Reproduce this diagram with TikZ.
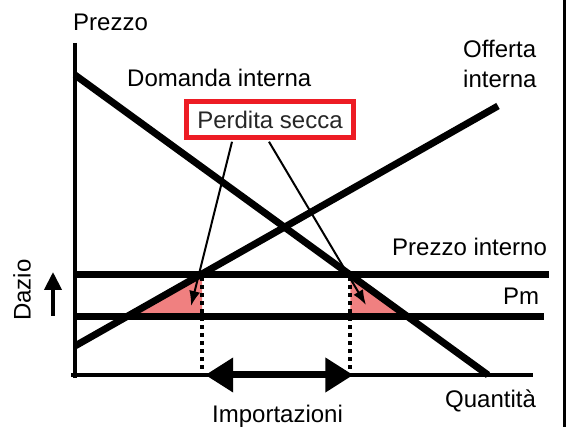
\documentclass[tikz,border=0pt]{standalone}
\usepackage{fontspec}
\setmainfont{Liberation Sans}
\usetikzlibrary{positioning,calc,arrows.meta}
\definecolor{lossred}{HTML}{F08080}
\definecolor{boxred}{HTML}{ED1C24}
\tikzset{axes/.style={line width=4.5pt}}
\tikzset{curve/.style={line width=7pt}}
\tikzset{level/.style={line width=7pt}}
\tikzset{drop/.style={line width=4pt,dash pattern=on 4pt off 4pt}}
\tikzset{loss/.style={fill=lossred}}
\tikzset{pointer/.style={-{Latex[length=15pt,width=11pt]},line width=2pt}}
\tikzset{uparrow/.style={-{Triangle[length=18pt,width=17pt]},line width=4pt}}
\tikzset{bigarrow/.style={{Triangle[length=28pt,width=33pt]}-{Triangle[length=28pt,width=33pt]},line width=7pt}}
\tikzset{lbl/.style={inner sep=0pt,font=\fontsize{24}{30}\selectfont}}

\begin{document}
\begin{tikzpicture}[x=1pt,y=-1pt]
  \useasboundingbox (0,0) rectangle (566,427);
  \coordinate (o) at (75,375);
  \coordinate (ytop) at (75,43);
  \coordinate (xend) at (533,375);
  \coordinate (d1) at (75,75);
  \coordinate (d2) at (488,375);
  \coordinate (s1) at (75,346);
  \coordinate (s2) at (498,106);
  \coordinate (pi1) at (75,275);
  \coordinate (pi2) at (549,275);
  \coordinate (pm1) at (75,317);
  \coordinate (pm2) at (544,317);
  \coordinate (sa) at (intersection of s1--s2 and pi1--pi2);
  \coordinate (sb) at (intersection of s1--s2 and pm1--pm2);
  \coordinate (da) at (intersection of d1--d2 and pi1--pi2);
  \coordinate (db) at (intersection of d1--d2 and pm1--pm2);
  \fill[loss] (sb) -- ($(sa)+(2,0)$) -- ($(sa |- sb)+(2,0)$) -- cycle;
  \fill[loss] (da) -- (db) -- (da |- db) -- cycle;
  \draw[axes] (ytop) -- (75,378);
  \draw[axes] (71,375) -- (xend);
  \draw[level] (pi1) -- (pi2);
  \draw[level] (pm1) -- (pm2);
  \draw[curve] (d1) -- (d2);
  \draw[curve] (s1) -- (s2);
  \draw[drop] ($(sa)+(2,2)$) -- ($(sa |- o)+(2,0)$);
  \draw[drop] ($(da)+(0,2)$) -- (da |- o);
  \draw[bigarrow] ($(sa |- o)+(5,0)$) -- ($(da |- o)+(3,0)$);
  \node[lbl,anchor=base west] (prezzo) at (73,31) {Prezzo};
  \node[lbl,anchor=base west] (domanda) at (127,87) {Domanda interna};
  \node[lbl,anchor=base west,align=left] (offerta) at (463,88) {Offerta\\interna};
  \node[lbl,anchor=base west] (interno) at (392,256) {Prezzo interno};
  \node[lbl,anchor=base west] (pm) at (503,305) {Pm};
  \node[lbl,anchor=base west] (quantita) at (445,408) {Quantità};
  \node[lbl,anchor=base west] (import) at (212,423) {Importazioni};
  \node[lbl,rotate=90] (dazio) at (22,290) {Dazio};
  \node[lbl,draw=boxred,line width=4.5pt,minimum width=167pt,minimum height=36pt,text=black!85] (perdita) at (270,119.5) {Perdita secca};
  \coordinate (tipl) at (191,306);
  \coordinate (tipr) at (366,305);
  \draw[pointer] ($(perdita.south)+(-38,2)$) -- (tipl);
  \draw[pointer] ($(perdita.south)+(-1,2)$) -- (tipr);
  \coordinate (dz1) at (53,316);
  \coordinate (dz2) at (53,272);
  \draw[uparrow] (dz1) -- (dz2);
  \draw[line width=3pt] (564.5,0) -- (564.5,427);
\end{tikzpicture}
\end{document}
